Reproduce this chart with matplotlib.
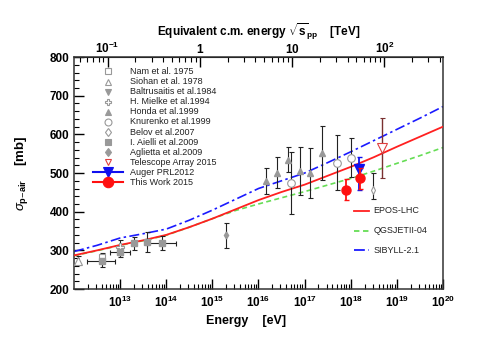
import numpy as np
import matplotlib.pyplot as plt
from matplotlib.ticker import FixedLocator, NullFormatter

plt.rcParams['font.family'] = ['Liberation Sans', 'DejaVu Sans']
plt.rcParams['mathtext.fontset'] = 'custom'
plt.rcParams['mathtext.rm'] = 'Liberation Sans'
plt.rcParams['mathtext.it'] = 'Liberation Sans:italic'
plt.rcParams['mathtext.bf'] = 'Liberation Sans:bold'

# model curves: log10(E/eV) vs sigma_p-air [mb]
model_logE = [12, 12.5, 13, 13.5, 14, 14.5, 15, 15.5, 16, 16.5, 17, 17.5, 18, 18.5, 19, 19.5, 20]
epos = [287, 300, 314, 326, 340, 360, 382, 406, 430, 451, 470, 493, 516, 541, 568, 594, 620]
qgsjet = [286, 299, 313, 325, 339, 360, 382, 403, 420, 436, 452, 469, 486, 505, 525, 545, 566]
sibyll = [297, 313, 332, 343, 355, 378, 404, 432, 460, 480, 500, 527, 555, 584, 613, 642, 672]

# data sets (log10 E, sigma, errors)
siohan_logE = [12.09]
siohan_sig = [273]
siohan_err = [12]

nam_logE = [12.60]
nam_sig = [282]
nam_err = [10]

mielke_logE = [13.0]
mielke_sig = [308]
mielke_err = [20]

argo_logE = [12.60, 13.00, 13.30, 13.59, 13.90]
argo_lo = [12.29, 12.78, 13.30, 13.59, 13.59]
argo_hi = [12.89, 13.21, 13.30, 13.59, 14.21]
argo_sig = [272, 296, 318, 322, 318]
argo_err = [16, 14, 17, 25, 18]

aglietta_logE = [15.30]
aglietta_sig = [339]
aglietta_err = [32]

honda_logE = [16.165, 16.40, 16.63, 16.89, 17.12, 17.37]
honda_sig = [479, 501, 535, 505, 500, 551]
honda_err = [34, 40, 33, 63, 65, 70]

knurenko_logE = [16.70, 17.70, 18.00]
knurenko_sig = [475, 527, 540]
knurenko_err = [80, 72, 50]

belov_logE = [18.49]
belov_sig = [457]
belov_lo = [25]
belov_hi = [42]

ta_logE = [18.68]
ta_sig = [565]
ta_err = [77]

auger_logE = [18.19]
auger_sig = [511]
auger_lo = [54]
auger_hi = [30]

thiswork_logE = [17.90, 18.20]
thiswork_sig = [457, 486]
thiswork_err = [27, 28]

ebar = '#222222'
grey = '#999999'


def E(v):
    return 10.0 ** np.asarray(v, dtype=float)


fig = plt.figure(figsize=(4.91, 3.46), dpi=100)
ax = fig.add_axes([0.1507, 0.1647, 0.7515, 0.6703])
ax.set_xscale('log')
ax.set_xlim(1e12, 1e20)
ax.set_ylim(200, 800)

# models
ax.plot(E(model_logE), qgsjet, color='#66dd55', ls=(0, (3, 2)), lw=1.2, zorder=2)
ax.plot(E(model_logE), sibyll, color='#1a1aff', ls=(0, (6, 2, 1.5, 2)), lw=1.2, zorder=2)
ax.plot(E(model_logE), epos, color='#ff2020', ls='-', lw=1.3, zorder=3)

ekw = dict(ecolor=ebar, elinewidth=0.8, capsize=1.8, capthick=0.8, zorder=4)

ax.errorbar(E(siohan_logE), siohan_sig, yerr=siohan_err, fmt='^', ms=5.5,
            mfc='white', mec=grey, mew=0.8, **ekw)
ax.errorbar(E(nam_logE), nam_sig, yerr=nam_err, fmt='s', ms=5,
            mfc='white', mec=grey, mew=0.8, **ekw)
ax.errorbar(E(mielke_logE), mielke_sig, yerr=mielke_err, fmt='P', ms=5.5,
            mfc='white', mec=grey, mew=0.8, **ekw)
argo_x = E(argo_logE)
argo_xerr = [argo_x - E(argo_lo), E(argo_hi) - argo_x]
ax.errorbar(argo_x, argo_sig, xerr=argo_xerr, yerr=argo_err, fmt='s', ms=5,
            mfc=grey, mec=grey, **ekw)
ax.errorbar(E(aglietta_logE), aglietta_sig, yerr=aglietta_err, fmt='d', ms=3.5,
            mfc=grey, mec=grey, **ekw)
ax.errorbar(E(honda_logE), honda_sig, yerr=honda_err, fmt='^', ms=4.5,
            mfc=grey, mec=grey, **ekw)
ax.errorbar(E(knurenko_logE), knurenko_sig, yerr=knurenko_err, fmt='o', ms=5.5,
            mfc='white', mec=grey, mew=0.8, **ekw)
ax.errorbar(E(belov_logE), belov_sig, yerr=[belov_lo, belov_hi], fmt='d', ms=4,
            mfc='white', mec=grey, mew=0.8, **ekw)
ax.errorbar(E(ta_logE), ta_sig, yerr=ta_err, fmt='v', ms=6.5,
            mfc='white', mec='#e04040', mew=0.8, ecolor='#7a3030', elinewidth=1.0,
            capsize=1.8, capthick=0.8, zorder=4)
ax.errorbar(E(auger_logE), auger_sig, yerr=[auger_lo, auger_hi], fmt='v', ms=7,
            mfc='#1010ee', mec='#1010ee', ecolor='#1010ee', elinewidth=1.3,
            capsize=1.8, capthick=1.0, zorder=5)
ax.errorbar(E(thiswork_logE), thiswork_sig, yerr=thiswork_err, fmt='o', ms=6.5,
            mfc='#ff1010', mec='#ff1010', ecolor='#ff1010', elinewidth=1.3,
            capsize=1.8, capthick=1.0, zorder=6)

# axes style
for s in ax.spines.values():
    s.set_linewidth(1.1)
    s.set_color('#333333')
ax.xaxis.set_major_locator(FixedLocator([10.0 ** k for k in range(13, 21)]))
ax.xaxis.set_minor_locator(FixedLocator([m * 10.0 ** k for k in range(12, 20) for m in range(2, 10)]))
ax.set_xticklabels(['$\\mathbf{10^{%d}}$' % k for k in range(13, 21)])
ax.xaxis.set_minor_formatter(NullFormatter())
ax.set_yticks(range(200, 801, 100))
ax.yaxis.set_minor_locator(FixedLocator(range(200, 801, 20)))
ax.tick_params(axis='both', which='major', direction='in', length=7, width=1.0,
               labelsize=8.5, top=False, right=False)
ax.tick_params(axis='both', which='minor', direction='in', length=3.5, width=0.8,
               top=False, right=False)
for t in ax.get_yticklabels():
    t.set_fontweight('bold')
ax.tick_params(axis='x', pad=4)

# top axis: equivalent c.m. energy
mp = 0.938e9


def fwd(e):
    return np.sqrt(2 * mp * np.clip(e, 1e-30, None)) / 1e12


def inv(s):
    return (np.asarray(s) * 1e12) ** 2 / (2 * mp)


sec = ax.secondary_xaxis('top', functions=(fwd, inv))
sec.set_xscale('log')
sec.xaxis.set_major_locator(FixedLocator([0.1, 1, 10, 100]))
sec.xaxis.set_minor_locator(FixedLocator([m * 10.0 ** k for k in range(-2, 3) for m in range(2, 10)]))
sec.xaxis.set_minor_formatter(NullFormatter())
sec.set_xticklabels(['$\\mathbf{10^{-1}}$', r'$\mathbf{1}$', r'$\mathbf{10}$', '$\\mathbf{10^{2}}$'])
sec.tick_params(which='major', direction='in', length=7, width=1.0, labelsize=8.5, pad=1)
sec.tick_params(which='minor', direction='in', length=3.5, width=0.8)
sec.set_xlabel(r'Equivalent c.m. energy $\sqrt{\mathbf{s}}_{\mathbf{pp}}$    [TeV]',
               fontsize=8.5, fontweight='bold', labelpad=3)

ax.set_xlabel('Energy    [eV]', fontsize=9, fontweight='bold')
ax.xaxis.set_label_coords(0.466, -0.11)
ax.set_ylabel(r'$\sigma_{\mathbf{p\mathrm{-}air}}$    [mb]', fontsize=9.5, fontweight='bold')
ax.yaxis.set_label_coords(-0.12, 0.5)

# legend (data)
leg = [
    ('Nam et al. 1975', 's', 'white', grey, None),
    ('Siohan et al. 1978', '^', 'white', grey, None),
    ('Baltrusaitis et al.1984', 'v', grey, grey, None),
    ('H. Mielke et al.1994', 'P', 'white', grey, None),
    ('Honda et al.1999', '^', grey, grey, None),
    ('Knurenko et al.1999', 'o', 'white', grey, None),
    ('Belov et al.2007', 'd', 'white', grey, None),
    ('I. Aielli et al.2009', 's', grey, grey, None),
    ('Aglietta et al.2009', 'd', grey, grey, None),
    ('Telescope Array 2015', 'v', 'white', '#e04040', None),
    ('Auger PRL2012', 'v', '#1010ee', '#1010ee', '#1010ee'),
    ('This Work 2015', 'o', '#ff1010', '#ff1010', '#ff1010'),
]
x_m, x_t = 0.093, 0.152
y0, dy = 0.938, 0.0435
for i, (lab, mk, fc, ec, lc) in enumerate(leg):
    y = y0 - i * dy
    if lc is not None:
        ax.plot([0.052, 0.134], [y, y], color=lc, lw=1.5, transform=ax.transAxes, clip_on=False)
        ms = 7.5
    else:
        ms = 5 if mk != 'd' else 4.5
    ax.plot([x_m], [y], marker=mk, ms=ms, mfc=fc, mec=ec, mew=0.8, ls='none',
            transform=ax.transAxes, clip_on=False)
    ax.text(x_t, y, lab, fontsize=6.5, va='center', ha='left', color='#222222',
            transform=ax.transAxes)

# legend (models)
mods = [('EPOS-LHC', '#ff2020', '-'), ('QGSJETII-04', '#66dd55', (0, (3, 2))),
        ('SIBYLL-2.1', '#1a1aff', (0, (6, 2, 1.5, 2)))]
for i, (lab, c, ls) in enumerate(mods):
    y = 0.337 - i * 0.085
    ax.plot([0.76, 0.80], [y, y], color=c, ls=ls, lw=1.3, transform=ax.transAxes)
    ax.text(0.812, y, lab, fontsize=6.5, va='center', ha='left', color='#222222',
            transform=ax.transAxes)

fig.savefig('out.png', dpi=100)
